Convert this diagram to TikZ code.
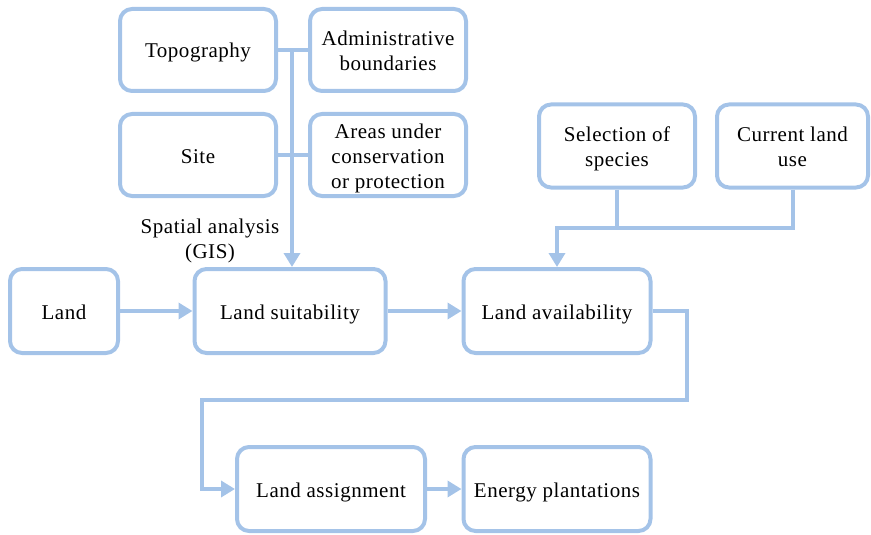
\documentclass[tikz,border=0pt]{standalone}
\usepackage{fontspec}
\setmainfont{LiberationSerif}[Extension=.ttf, UprightFont=*-Regular, BoldFont=*-Bold, ItalicFont=*-Italic, BoldItalicFont=*-BoldItalic]
\usetikzlibrary{arrows.meta,calc}
\definecolor{lb}{RGB}{164,195,232}
\newcommand{\tx}[1]{\raisebox{-3pt}[\height][\depth]{\begin{tabular}{@{}c@{}}#1\end{tabular}}}
\tikzset{
  txtfont/.style={font=\rmfamily\fontsize{21}{25}\selectfont\addfontfeature{LetterSpace=2.5}},
  box/.style={draw=lb, line width=4pt, rounded corners=12pt,
    inner sep=2pt, txtfont, text=black},
  conn/.style={draw=lb, line width=4pt},
  arr/.style={conn, -{Triangle[width=16pt,length=14pt]}}
}
\begin{document}
\begin{tikzpicture}[x=1pt,y=-1pt]
\useasboundingbox (0,0) rectangle (871,535);
\node[box, minimum width=156pt, minimum height=82pt] (topo) at (198,50) {\tx{Topography}};
\node[box, minimum width=156pt, minimum height=82pt] (admin) at (388,50) {\tx{Administrative\\boundaries}};
\node[box, minimum width=156pt, minimum height=82pt] (site) at (198,155) {\tx{Site}};
\node[box, minimum width=156pt, minimum height=82pt] (areas) at (388,155) {\tx{Areas under\\conservation\\or protection}};
\node[box, minimum width=156pt, minimum height=83pt] (sel) at (617,146) {\tx{Selection of\\species}};
\node[box, minimum width=151pt, minimum height=83pt] (cur) at (792.5,146) {\tx{Current land\\use}};
\node[box, minimum width=108pt, minimum height=84pt] (land) at (64,311) {\tx{Land}};
\node[box, minimum width=191pt, minimum height=84pt] (suit) at (290,311) {\tx{Land suitability}};
\node[box, minimum width=187pt, minimum height=84pt] (avail) at (557,311) {\tx{Land availability}};
\node[box, minimum width=188pt, minimum height=84pt] (assign) at (331,489) {\tx{Land assignment}};
\node[box, minimum width=187pt, minimum height=84pt] (energy) at (557,489) {\tx{Energy plantations}};
\node[txtfont, inner sep=0pt] (gis) at (210,238) {\tx{Spatial analysis\\(GIS)}};
\coordinate (trunk) at (292,50);
\coordinate (jn) at (557,228);
\coordinate (r1) at (687,400);
\coordinate (l1) at (202,400);
\draw[conn] (topo.east) -- (admin.west);
\draw[conn] (site.east) -- (areas.west);
\draw[arr] (trunk) -- (trunk |- suit.north);
\draw[arr] (land) -- (suit);
\draw[arr] (suit) -- (avail);
\draw[conn] (sel.south) -- (sel.south |- jn);
\draw[arr] (cur.south) |- (jn) -- (avail.north);
\draw[arr] (avail.east) -| (r1) -- (l1) |- (assign.west);
\draw[arr] (assign) -- (energy);
\end{tikzpicture}
\end{document}
